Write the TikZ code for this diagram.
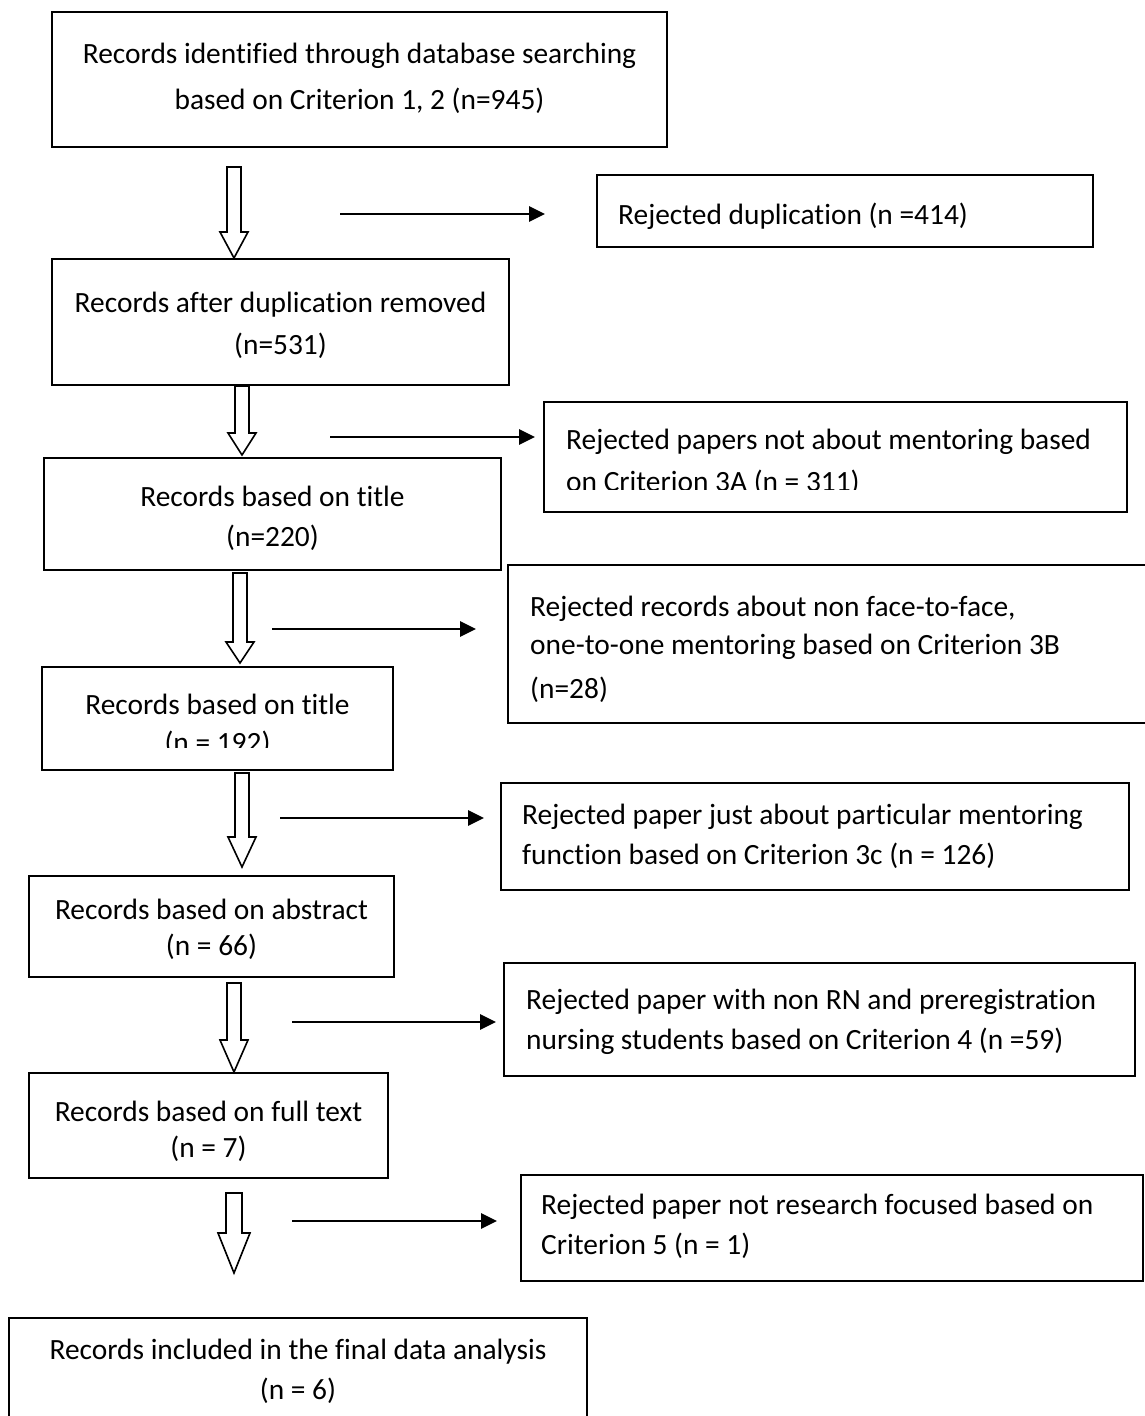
\documentclass[tikz,border=0pt]{standalone}
\usepackage{fontspec}
\setmainfont{Carlito}[Ligatures={NoCommon,NoContextual}]
\usetikzlibrary{arrows.meta,fit}

\tikzset{
  box/.style={draw, line width=1.8pt, rectangle, inner sep=0pt},
  ctr/.style={anchor=base, inner sep=0pt, font=\fontsize{29.4}{35}\selectfont},
  lft/.style={anchor=base west, inner sep=0pt, font=\fontsize{29.4}{35}\selectfont},
  hollow/.style={draw, line width=1.6pt, fill=white, line join=miter},
  side/.style={line width=2.8pt, -{Triangle[length=16pt,width=15pt]}},
}

% downward block arrow: #1 centre x, #2 top, #3 shoulder, #4 tip
\newcommand{\blockdown}[4]{%
  \draw[hollow] ({#1-7},#2) -- ({#1+7},#2) -- ({#1+7},#3) -- ({#1+14},#3)
    -- (#1,#4) -- ({#1-14},#3) -- ({#1-7},#3) -- cycle;}

\begin{document}
\begin{tikzpicture}[x=1pt,y=-1pt]
\useasboundingbox (0,0) rectangle (1145,1416);
\clip (0,0) rectangle (1145,1416);
\fill[white] (0,0) rectangle (1145,1416);

% ---- main column ----
\node[box, fit={(52,12) (667,147)}] (b1) {};
\node[ctr] (b1l1) at (359.5,63) {Records identified through database searching};
\node[ctr] (b1l2) at (359.5,109) {based on Criterion 1, 2 (n=945)};

\node[box, fit={(52,259) (509,385)}] (b2) {};
\node[ctr] (b2l1) at (280.5,312) {Records after duplication removed};
\node[ctr] (b2l2) at (280.5,354) {(n=531)};

\node[box, fit={(44,458) (501,570)}] (b3) {};
\node[ctr] (b3l1) at (272.5,506) {Records based on title};
\node[ctr] (b3l2) at (272.5,546) {(n=220)};

\node[box, fit={(42,667) (393,770)}] (b4) {};
\node[ctr] (b4l1) at (217.5,714) {Records based on title};
\begin{scope}
  \clip (42,667) rectangle (393,747);
  \node[ctr] (b4l2) at (217.5,752) {(n = 192)};
\end{scope}

\node[box, fit={(29,876) (394,977)}] (b5) {};
\node[ctr] (b5l1) at (211.5,919) {Records based on abstract};
\node[ctr] (b5l2) at (211.5,955) {(n = 66)};

\node[box, fit={(29,1073) (388,1178)}] (b6) {};
\node[ctr] (b6l1) at (208.5,1121) {Records based on full text};
\node[ctr] (b6l2) at (208.5,1157) {(n = 7)};

\node[box, fit={(9,1318) (587,1460)}] (b7) {};
\node[ctr] (b7l1) at (298,1359) {Records included in the final data analysis};
\node[ctr] (b7l2) at (298,1399) {(n = 6)};

% ---- block arrows between stages ----
\blockdown{234}{167}{232}{258}
\blockdown{242}{386}{433}{455}
\blockdown{240}{573}{642}{663}
\blockdown{242}{773}{837}{867}
\blockdown{234}{983}{1040}{1072}
\draw[hollow] (226,1193) -- (242,1193) -- (242,1233) -- (250,1233)
  -- (234,1273) -- (218,1233) -- (226,1233) -- cycle;

% ---- excluded records ----
\node[box, fit={(597,175) (1093,247)}] (r1) {};
\node[lft] (r1l1) at (618,224) {Rejected duplication (n =414)};

\node[box, fit={(544,402) (1127,512)}] (r2) {};
\node[lft] (r2l1) at (566,449) {Rejected papers not about mentoring based};
\begin{scope}
  \clip (544,402) rectangle (1127,489);
  \node[lft] (r2l2) at (566,491) {on Criterion 3A (n = 311)};
\end{scope}

\node[box, fit={(508,565) (1160,723)}] (r3) {};
\node[lft] (r3l1) at (530,616) {Rejected records about non face-to-face,};
\node[lft] (r3l2) at (530,654) {one-to-one mentoring based on Criterion 3B};
\node[lft] (r3l3) at (530,698) {(n=28)};

\node[box, fit={(501,783) (1129,890)}] (r4) {};
\node[lft] (r4l1) at (522,824) {Rejected paper just about particular mentoring};
\node[lft] (r4l2) at (522,864) {function based on Criterion 3c (n = 126)};

\node[box, fit={(504,963) (1135,1076)}] (r5) {};
\node[lft] (r5l1) at (526,1009) {Rejected paper with non RN and preregistration};
\node[lft] (r5l2) at (526,1049) {nursing students based on Criterion 4 (n =59)};

\node[box, fit={(521,1175) (1143,1281)}] (r6) {};
\node[lft] (r6l1) at (541,1214) {Rejected paper not research focused based on};
\node[lft] (r6l2) at (541,1254) {Criterion 5 (n = 1)};

% ---- side arrows ----
\coordinate (s1) at (340,214);  \coordinate (e1) at (545,214);
\coordinate (s2) at (330,437);  \coordinate (e2) at (535,437);
\coordinate (s3) at (272,629);  \coordinate (e3) at (476,629);
\coordinate (s4) at (280,818);  \coordinate (e4) at (484,818);
\coordinate (s5) at (292,1022); \coordinate (e5) at (496,1022);
\coordinate (s6) at (292,1221); \coordinate (e6) at (497,1221);
\foreach \i in {1,...,6} { \draw[side] (s\i) -- (e\i); }
\end{tikzpicture}
\end{document}
